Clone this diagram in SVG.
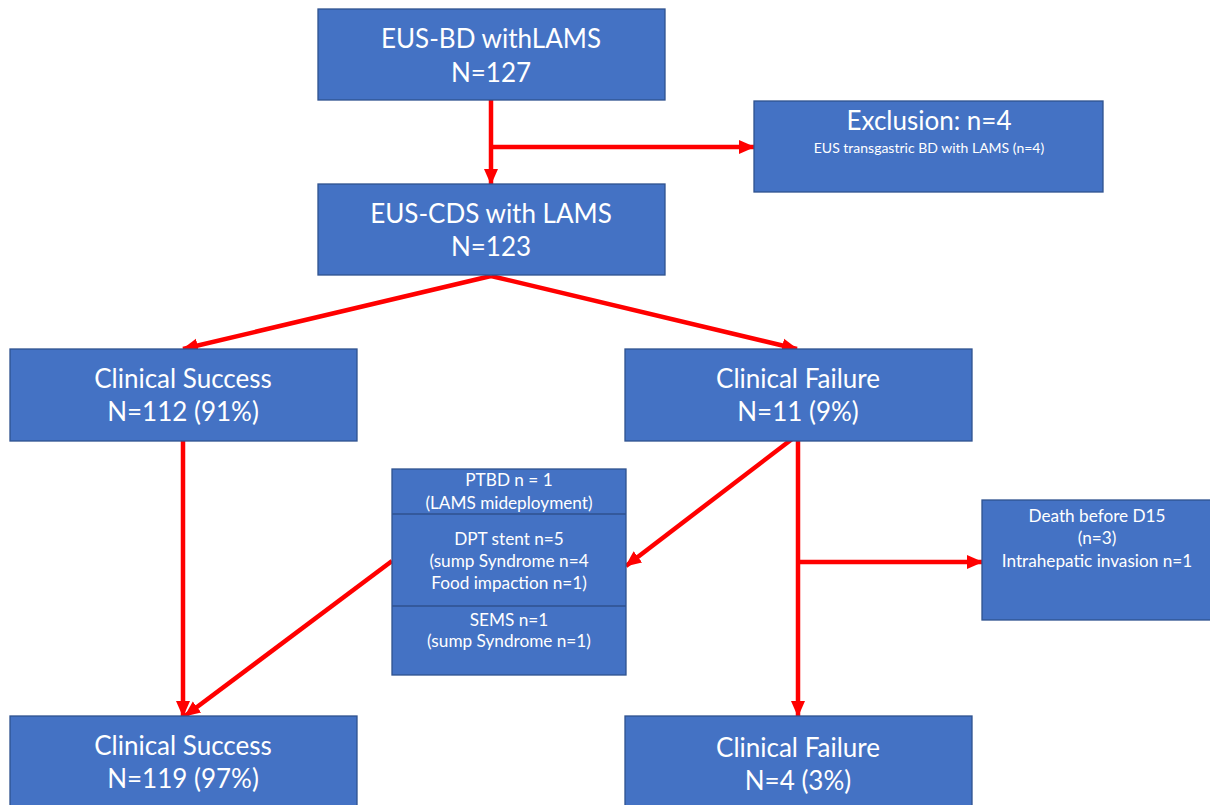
<svg xmlns="http://www.w3.org/2000/svg" width="1210" height="805" viewBox="0 0 1210 805">
<style>
.box{fill:#4472C4;stroke:#2F528F;stroke-width:1.3}
.div{stroke:#2F528F;stroke-width:1.5}
text{font-family:Lato,"Open Sans","Liberation Sans",sans-serif;fill:#FFFFFF;text-anchor:middle}
.big{font-size:26px}
.sub{font-size:14px}
.mid{font-size:17.2px}
.con{stroke:#FF0000;stroke-width:4.5;fill:none}
</style>
<defs>
<marker id="ah" markerUnits="userSpaceOnUse" markerWidth="16" markerHeight="16" viewBox="0 0 16 16" refX="15" refY="8" orient="auto">
<path d="M0,1 L16,8 L0,15 Z" fill="#FF0000"/>
</marker>
</defs>
<rect width="1210" height="805" fill="#FFFFFF"/>
<g id="connectors">
<line class="con" x1="491" y1="100" x2="491" y2="184" marker-end="url(#ah)"/>
<line class="con" x1="491" y1="147" x2="754" y2="147" marker-end="url(#ah)"/>
<line class="con" x1="491" y1="276" x2="183" y2="349" marker-end="url(#ah)"/>
<line class="con" x1="491" y1="276" x2="797" y2="349" marker-end="url(#ah)"/>
<line class="con" x1="183" y1="436" x2="183" y2="716" marker-end="url(#ah)"/>
<line class="con" x1="392" y1="561" x2="185" y2="716" marker-end="url(#ah)"/>
<line class="con" x1="796" y1="436" x2="626" y2="566" marker-end="url(#ah)"/>
<line class="con" x1="798" y1="441" x2="798" y2="716" marker-end="url(#ah)"/>
<line class="con" x1="798" y1="562" x2="982" y2="562" marker-end="url(#ah)"/>
</g>
<g id="eus-bd">
<rect class="box" x="318" y="9" width="347" height="91"/>
<text class="big" x="491" y="48">EUS-BD withLAMS</text>
<text class="big" x="491" y="82">N=127</text>
</g>
<g id="exclusion">
<rect class="box" x="754" y="101" width="349" height="91"/>
<text class="big" x="929" y="130">Exclusion: n=4</text>
<text class="sub" x="929" y="153">EUS transgastric BD with LAMS (n=4)</text>
</g>
<g id="eus-cds">
<rect class="box" x="318" y="184" width="347" height="91"/>
<text class="big" x="491" y="223">EUS-CDS with LAMS</text>
<text class="big" x="491" y="256">N=123</text>
</g>
<g id="success1">
<rect class="box" x="10" y="349" width="347" height="92"/>
<text class="big" x="183" y="388">Clinical Success</text>
<text class="big" x="183" y="421">N=112 (91%)</text>
</g>
<g id="failure1">
<rect class="box" x="625" y="349" width="347" height="92"/>
<text class="big" x="798" y="388">Clinical Failure</text>
<text class="big" x="798" y="421">N=11 (9%)</text>
</g>
<g id="rescue">
<rect class="box" x="392" y="469" width="234" height="206"/>
<line class="div" x1="392" y1="514" x2="626" y2="514"/>
<line class="div" x1="392" y1="606" x2="626" y2="606"/>
<text class="mid" x="509" y="486">PTBD n = 1</text>
<text class="mid" x="509" y="509">(LAMS mideployment)</text>
<text class="mid" x="509" y="545">DPT stent n=5</text>
<text class="mid" x="509" y="567">(sump Syndrome n=4</text>
<text class="mid" x="509" y="589">Food impaction n=1)</text>
<text class="mid" x="509" y="626">SEMS n=1</text>
<text class="mid" x="509" y="647">(sump Syndrome n=1)</text>
</g>
<g id="death">
<rect class="box" x="982" y="500" width="230" height="120"/>
<text class="mid" x="1097" y="522">Death before D15</text>
<text class="mid" x="1097" y="544">(n=3)</text>
<text class="mid" x="1097" y="567">Intrahepatic invasion n=1</text>
</g>
<g id="success2">
<rect class="box" x="10" y="716" width="347" height="95"/>
<text class="big" x="183" y="755">Clinical Success</text>
<text class="big" x="183" y="788">N=119 (97%)</text>
</g>
<g id="failure2">
<rect class="box" x="625" y="716" width="347" height="95"/>
<text class="big" x="798" y="757">Clinical Failure</text>
<text class="big" x="798" y="790">N=4 (3%)</text>
</g>
</svg>
